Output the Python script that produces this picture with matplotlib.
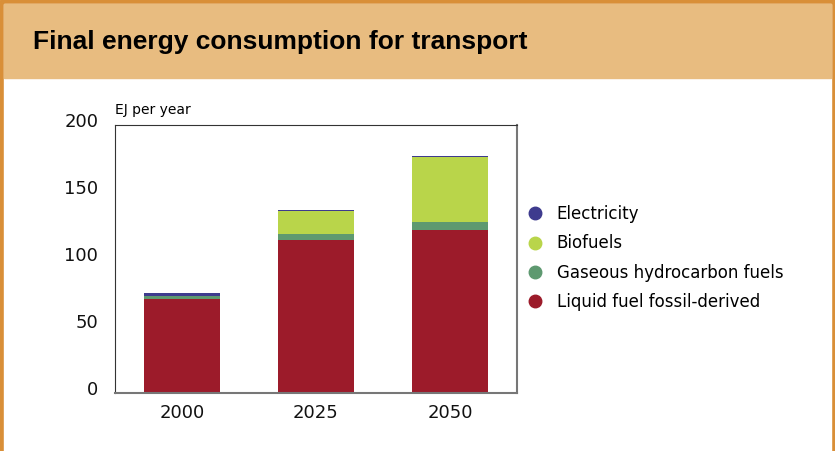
import matplotlib.pyplot as plt
from matplotlib.patches import Rectangle
from matplotlib.lines import Line2D
from matplotlib.transforms import ScaledTranslation

years = ['2000', '2025', '2050']
liquid = [70.0, 114.2, 121.6]
gaseous = [2.6, 4.5, 6.0]
biofuels = [0.0, 16.9, 48.3]
electricity = [2.0, 0.7, 0.6]

series_names = ['Electricity', 'Biofuels', 'Gaseous hydrocarbon fuels', 'Liquid fuel fossil-derived']
colors = {'Electricity': '#3E3B8E', 'Biofuels': '#B9D54A',
          'Gaseous hydrocarbon fuels': '#5E9970', 'Liquid fuel fossil-derived': '#9C1B2A'}

plt.rcParams['font.family'] = ['DejaVu Sans']

fig = plt.figure(figsize=(8.35, 4.51), dpi=100)
W, H = 835, 451

# background: orange frame, title band
fig.patches.append(Rectangle((0, 0), 1, 1, transform=fig.transFigure, color='#D98F38', zorder=-3))
fig.patches.append(Rectangle((4 / W, 0), (W - 8) / W, 1 - 4 / H, transform=fig.transFigure,
                             color='white', zorder=-2))
fig.patches.append(Rectangle((4 / W, 1 - 78 / H), (W - 8) / W, 74 / H, transform=fig.transFigure,
                             color='#E8BC80', zorder=-1))
fig.text(33 / W, 1 - 42 / H, 'Final energy consumption for transport', fontsize=19,
         fontweight='bold', va='center', ha='left', family='Liberation Sans')

ax = fig.add_axes([115 / W, 1 - 393 / H, 402 / W, 268 / H])
x = range(len(years))
width = 0.56
bottom = [0, 0, 0]
for name, vals in [('Liquid fuel fossil-derived', liquid), ('Gaseous hydrocarbon fuels', gaseous),
                   ('Biofuels', biofuels), ('Electricity', electricity)]:
    ax.bar(x, vals, width, bottom=bottom, color=colors[name], linewidth=0)
    bottom = [b + v for b, v in zip(bottom, vals)]

ax.set_xlim(-0.5, 2.5)
ax.set_ylim(0, 200)
ax.set_yticks([0, 50, 100, 150, 200])
ax.set_xticks(list(x))
ax.set_xticklabels(years)
ax.tick_params(length=0, labelsize=13, colors='#111111')
ax.tick_params(axis='y', pad=12)
ax.tick_params(axis='x', pad=8)
shift = ScaledTranslation(0, 5 / 100, fig.dpi_scale_trans)
for lbl in ax.get_yticklabels():
    lbl.set_transform(lbl.get_transform() + shift)
for side in ['left', 'top']:
    ax.spines[side].set_color('#333333')
    ax.spines[side].set_linewidth(0.8)
for side in ['right', 'bottom']:
    ax.spines[side].set_color('#777777')
    ax.spines[side].set_linewidth(1.5)

fig.text(115 / W, 1 - 110 / H, 'EJ per year', fontsize=10, va='center', ha='left')

handles = [Line2D([], [], marker='o', linestyle='', markersize=9, color=colors[n]) for n in series_names]
fig.legend(handles, series_names, loc='upper left', bbox_to_anchor=(510 / W, 1 - 190 / H),
           frameon=False, fontsize=12, handletextpad=0.7, labelspacing=0.68, handlelength=1.2)

fig.savefig('out.png', dpi=100)
